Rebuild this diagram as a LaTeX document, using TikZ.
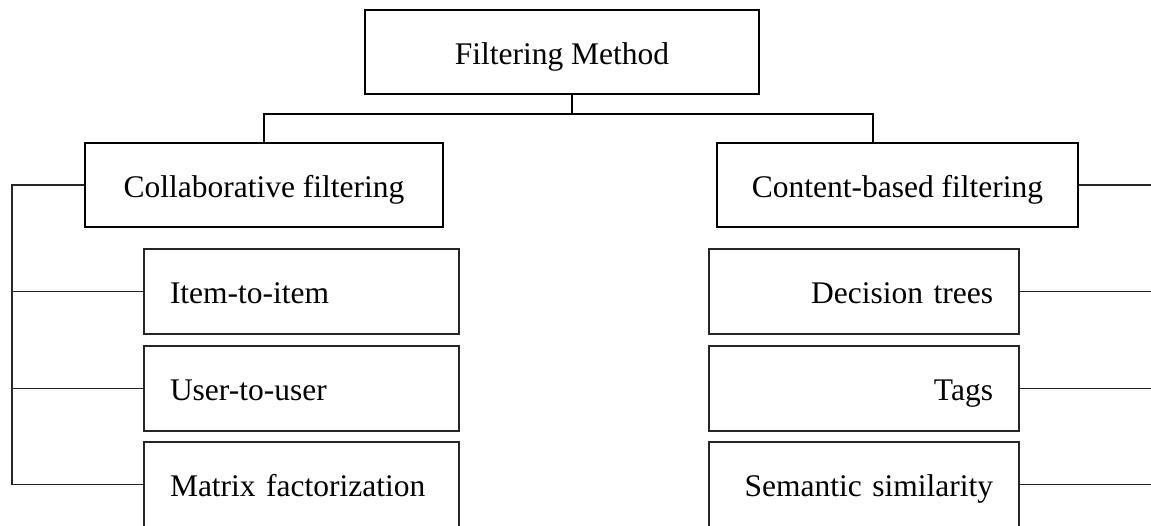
\documentclass[tikz,border=0pt]{standalone}
\usepackage{fontspec}
\setmainfont{Liberation Serif}
\begin{document}
\begin{tikzpicture}[x=1pt,y=-1pt,
  every node/.style={font=\fontsize{31.5}{38}\selectfont, text height=24pt, text depth=0pt},
  mainbox/.style={draw=black, line width=2.2pt, inner sep=0pt, minimum height=84pt},
  leftsub/.style={draw=black!85, line width=1.2pt, inner ysep=0pt, inner xsep=26pt,
    text width=263pt, align=left, minimum height=85pt},
  rightsub/.style={draw=black!85, line width=1.2pt, inner ysep=0pt, inner xsep=26pt,
    text width=258pt, align=right, minimum height=85pt},
  thickline/.style={line width=2.2pt, draw=black},
  thinline/.style={line width=1.2pt, draw=black!85}]
\useasboundingbox (0,0) rectangle (1151,525);
\clip (0,0) rectangle (1151,525);

\node[mainbox, minimum width=394pt] (top) at (562,52) {Filtering Method};
\node[mainbox, minimum width=358pt] (cf) at (264,185) {Collaborative filtering};
\node[mainbox, minimum width=361pt] (cb) at (897.5,185) {Content-based filtering};

\node[leftsub] (it) at (301.5,291.5) {Item-to-item};
\node[leftsub] (uu) at (301.5,388.5) {User-to-user};
\node[leftsub] (mf) at (301.5,484.5) {Matrix factorization};

\node[rightsub] (dt) at (864,291.5) {Decision trees};
\node[rightsub] (tg) at (864,388.5) {Tags};
\node[rightsub] (ss) at (864,484.5) {Semantic similarity};

\coordinate (j) at (572,114);
\coordinate (jr) at (873,114);
\coordinate (lb) at (12,0);
\coordinate (rb) at (1151,0);

\draw[thickline] (top.south -| j) -- (j);
\draw[thickline] (cf.north) |- (jr) -- (jr |- cb.north);

\draw[thinline] (cf.west) -- (cf.west -| lb) -- (mf.west -| lb) -- (mf.west);
\draw[thinline] (it.west) -- (it.west -| lb);
\draw[thinline] (uu.west) -- (uu.west -| lb);

\draw[thinline] (cb.east) -- (cb.east -| rb);
\draw[thinline] (dt.east) -- (dt.east -| rb);
\draw[thinline] (tg.east) -- (tg.east -| rb);
\draw[thinline] (ss.east) -- (ss.east -| rb);
\end{tikzpicture}
\end{document}
